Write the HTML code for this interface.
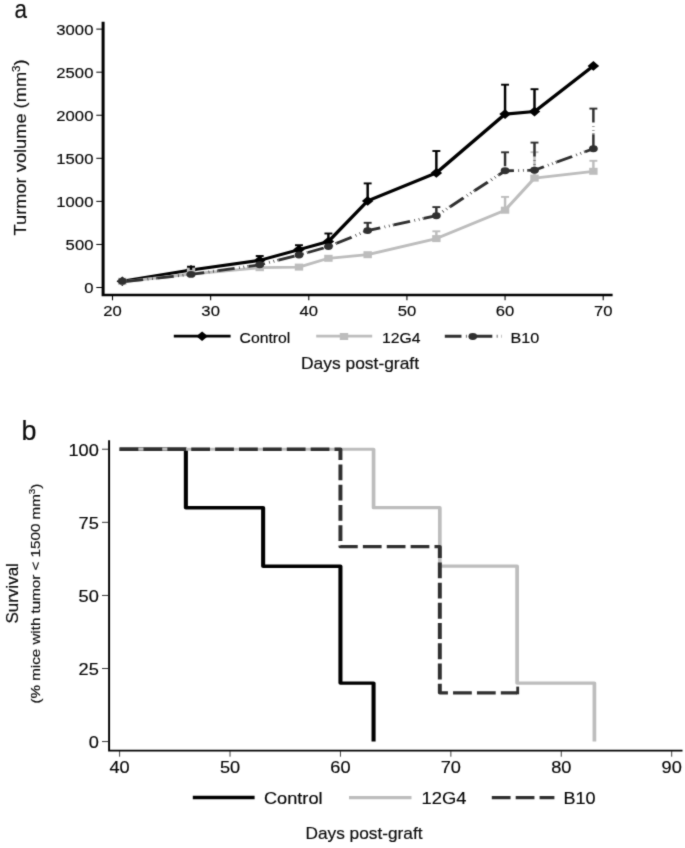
<!DOCTYPE html>
<html lang="en">
<head>
<meta charset="utf-8">
<title>Tumor volume and survival</title>
<style>
html,body{margin:0;padding:0;background:#fff}
body{width:685px;height:848px;overflow:hidden}
svg{display:block;will-change:transform;filter:grayscale(1)}
text{font-family:"Liberation Sans", Arial, Helvetica, sans-serif;fill:#111}
.ta{font-size:14.5px;fill:#050505;stroke:#050505;stroke-width:.14px}
.tb{font-size:16.1px;fill:#050505;stroke:#050505;stroke-width:.16px}
.cl{fill:#0c0c0c;stroke:#0c0c0c;stroke-width:.18px}
</style>
</head>
<body>
<svg width="685" height="848" viewBox="0 0 685 848">
<defs>
<filter id="soft" x="0" y="0" width="685" height="848" filterUnits="userSpaceOnUse" color-interpolation-filters="sRGB">
<feConvolveMatrix order="3" kernelMatrix="0.025 0.0875 0.025 0.0875 0.55 0.0875 0.025 0.0875 0.025" divisor="1" edgeMode="duplicate" preserveAlpha="true"/>
</filter>
</defs>
<g filter="url(#soft)">
<rect width="685" height="848" fill="#fff"/>
<g transform="scale(1.2,1)">
<path d="M85.917 21.7V295.1H510.5" fill="none" stroke="#000" stroke-width="2.5" stroke-linejoin="miter"/>
<line x1="80.25" x2="85" y1="287.5" y2="287.5" stroke="#000" stroke-width="1"/>
<text transform="translate(77.833,293.15) scale(0.957,1)" text-anchor="end" class="ta">0</text>
<line x1="80.25" x2="85" y1="244.435" y2="244.435" stroke="#000" stroke-width="1"/>
<text transform="translate(77.833,250.085) scale(0.957,1)" text-anchor="end" class="ta">500</text>
<line x1="80.25" x2="85" y1="201.37" y2="201.37" stroke="#000" stroke-width="1"/>
<text transform="translate(77.833,207.02) scale(0.957,1)" text-anchor="end" class="ta">1000</text>
<line x1="80.25" x2="85" y1="158.305" y2="158.305" stroke="#000" stroke-width="1"/>
<text transform="translate(77.833,163.955) scale(0.957,1)" text-anchor="end" class="ta">1500</text>
<line x1="80.25" x2="85" y1="115.24" y2="115.24" stroke="#000" stroke-width="1"/>
<text transform="translate(77.833,120.89) scale(0.957,1)" text-anchor="end" class="ta">2000</text>
<line x1="80.25" x2="85" y1="72.175" y2="72.175" stroke="#000" stroke-width="1"/>
<text transform="translate(77.833,77.825) scale(0.957,1)" text-anchor="end" class="ta">2500</text>
<line x1="80.25" x2="85" y1="29.11" y2="29.11" stroke="#000" stroke-width="1"/>
<text transform="translate(77.833,34.76) scale(0.957,1)" text-anchor="end" class="ta">3000</text>
<line x1="93.75" x2="93.75" y1="296" y2="300.3" stroke="#000" stroke-width="0.9"/>
<text transform="translate(93.75,315.5) scale(0.957,1)" text-anchor="middle" class="ta">20</text>
<line x1="175.533" x2="175.533" y1="296" y2="300.3" stroke="#000" stroke-width="0.9"/>
<text transform="translate(175.533,315.5) scale(0.957,1)" text-anchor="middle" class="ta">30</text>
<line x1="257.317" x2="257.317" y1="296" y2="300.3" stroke="#000" stroke-width="0.9"/>
<text transform="translate(257.317,315.5) scale(0.957,1)" text-anchor="middle" class="ta">40</text>
<line x1="339.1" x2="339.1" y1="296" y2="300.3" stroke="#000" stroke-width="0.9"/>
<text transform="translate(339.1,315.5) scale(0.957,1)" text-anchor="middle" class="ta">50</text>
<line x1="420.883" x2="420.883" y1="296" y2="300.3" stroke="#000" stroke-width="0.9"/>
<text transform="translate(420.883,315.5) scale(0.957,1)" text-anchor="middle" class="ta">60</text>
<line x1="502.667" x2="502.667" y1="296" y2="300.3" stroke="#000" stroke-width="0.9"/>
<text transform="translate(502.667,315.5) scale(0.957,1)" text-anchor="middle" class="ta">70</text>
<polyline points="101.928,281.2 159.177,269.9 216.425,260.4 249.138,249.6 273.673,241.5 306.387,200.9 363.635,172.9 420.883,114.1 445.418,111.6 494.488,65.9" fill="none" stroke="#000" stroke-width="3.05" stroke-linejoin="round"/>
<path d="M101.928 276.4l4.8 4.8l-4.8 4.8l-4.8 -4.8z" fill="#000"/>
<path d="M159.177 265.1l4.8 4.8l-4.8 4.8l-4.8 -4.8z" fill="#000"/>
<path d="M216.425 255.6l4.8 4.8l-4.8 4.8l-4.8 -4.8z" fill="#000"/>
<path d="M249.138 244.8l4.8 4.8l-4.8 4.8l-4.8 -4.8z" fill="#000"/>
<path d="M273.673 236.7l4.8 4.8l-4.8 4.8l-4.8 -4.8z" fill="#000"/>
<path d="M306.387 196.1l4.8 4.8l-4.8 4.8l-4.8 -4.8z" fill="#000"/>
<path d="M363.635 168.1l4.8 4.8l-4.8 4.8l-4.8 -4.8z" fill="#000"/>
<path d="M420.883 109.3l4.8 4.8l-4.8 4.8l-4.8 -4.8z" fill="#000"/>
<path d="M445.418 106.8l4.8 4.8l-4.8 4.8l-4.8 -4.8z" fill="#000"/>
<path d="M494.488 61.1l4.8 4.8l-4.8 4.8l-4.8 -4.8z" fill="#000"/>
<polyline points="101.928,281.8 159.177,274 216.425,267.7 249.138,267.1 273.673,258.3 306.387,254.7 363.635,238.6 420.883,210.2 445.418,178.1 494.488,171.3" fill="none" stroke="#bdbdbd" stroke-width="2.8" stroke-linejoin="round"/>
<rect x="98.428" y="277.8" width="7" height="7" fill="#bdbdbd"/>
<rect x="155.677" y="267.1" width="7" height="7" fill="#bdbdbd"/>
<rect x="212.925" y="264.2" width="7" height="7" fill="#bdbdbd"/>
<rect x="245.638" y="263.6" width="7" height="7" fill="#bdbdbd"/>
<rect x="270.173" y="254.8" width="7" height="7" fill="#bdbdbd"/>
<rect x="302.887" y="251.2" width="7" height="7" fill="#bdbdbd"/>
<rect x="360.135" y="235.1" width="7" height="7" fill="#bdbdbd"/>
<rect x="417.383" y="206.7" width="7" height="7" fill="#bdbdbd"/>
<rect x="441.918" y="174.6" width="7" height="7" fill="#bdbdbd"/>
<rect x="490.988" y="167.8" width="7" height="7" fill="#bdbdbd"/>
<path d="M363.635 231.3V238.6" fill="none" stroke="#bdbdbd" stroke-width="2.05"/><path d="M360.335 231.3H366.935" fill="none" stroke="#bdbdbd" stroke-width="1.9"/>
<path d="M420.883 196.9V210.2" fill="none" stroke="#bdbdbd" stroke-width="2.05"/><path d="M417.583 196.9H424.183" fill="none" stroke="#bdbdbd" stroke-width="1.9"/>
<path d="M445.418 152.2V178.1" fill="none" stroke="#bdbdbd" stroke-width="2.05"/><path d="M442.118 152.2H448.718" fill="none" stroke="#bdbdbd" stroke-width="1.9"/>
<path d="M494.488 160.8V171.3" fill="none" stroke="#bdbdbd" stroke-width="2.05"/><path d="M491.188 160.8H497.788" fill="none" stroke="#bdbdbd" stroke-width="1.9"/>
<polyline points="101.928,281.9 159.177,274.4 216.425,264.8 249.138,255 273.673,246.6 306.387,230.6 363.635,215.7 420.883,170.8 445.418,170.2 494.488,148.7" fill="none" stroke="#303030" stroke-width="2.8" stroke-dasharray="13.9 3.7 0.6 3.2 0.6 2.8 0.6 0.3" stroke-dashoffset="22.1"/>
<ellipse cx="101.928" cy="281.2" rx="3.65" ry="3.45" fill="#303030"/>
<ellipse cx="159.177" cy="274.4" rx="3.65" ry="3.45" fill="#303030"/>
<ellipse cx="216.425" cy="264.8" rx="3.65" ry="3.45" fill="#303030"/>
<ellipse cx="249.138" cy="255" rx="3.65" ry="3.45" fill="#303030"/>
<ellipse cx="273.673" cy="246.6" rx="3.65" ry="3.45" fill="#303030"/>
<ellipse cx="306.387" cy="230.6" rx="3.65" ry="3.45" fill="#303030"/>
<ellipse cx="363.635" cy="215.7" rx="3.65" ry="3.45" fill="#303030"/>
<ellipse cx="420.883" cy="170.8" rx="3.65" ry="3.45" fill="#303030"/>
<ellipse cx="445.418" cy="170.2" rx="3.65" ry="3.45" fill="#303030"/>
<ellipse cx="494.488" cy="148.7" rx="3.65" ry="3.45" fill="#303030"/>
<path d="M159.177 266.7V269.9" fill="none" stroke="#000" stroke-width="2.05"/><path d="M155.877 266.7H162.477" fill="none" stroke="#000" stroke-width="1.9"/>
<path d="M216.425 256V260.4" fill="none" stroke="#000" stroke-width="2.05"/><path d="M213.125 256H219.725" fill="none" stroke="#000" stroke-width="1.9"/>
<path d="M249.138 245.2V249.6" fill="none" stroke="#000" stroke-width="2.05"/><path d="M245.838 245.2H252.438" fill="none" stroke="#000" stroke-width="1.9"/>
<path d="M273.673 233.5V241.5" fill="none" stroke="#000" stroke-width="2.05"/><path d="M270.373 233.5H276.973" fill="none" stroke="#000" stroke-width="1.9"/>
<path d="M306.387 183.4V200.9" fill="none" stroke="#000" stroke-width="2.05"/><path d="M303.087 183.4H309.687" fill="none" stroke="#000" stroke-width="1.9"/>
<path d="M363.635 151V172.9" fill="none" stroke="#000" stroke-width="2.05"/><path d="M360.335 151H366.935" fill="none" stroke="#000" stroke-width="1.9"/>
<path d="M420.883 84.7V114.1" fill="none" stroke="#000" stroke-width="2.05"/><path d="M417.583 84.7H424.183" fill="none" stroke="#000" stroke-width="1.9"/>
<path d="M445.418 89.2V111.6" fill="none" stroke="#000" stroke-width="2.05"/><path d="M442.118 89.2H448.718" fill="none" stroke="#000" stroke-width="1.9"/>
<path d="M306.387 222.8V230.6" fill="none" stroke="#303030" stroke-width="2.05" stroke-dasharray="13.9 3.7 0.6 3.2 0.6 2.8 0.6 0.3"/><path d="M303.087 222.8H309.687" fill="none" stroke="#303030" stroke-width="1.9"/>
<path d="M363.635 207.1V215.7" fill="none" stroke="#303030" stroke-width="2.05" stroke-dasharray="13.9 3.7 0.6 3.2 0.6 2.8 0.6 0.3"/><path d="M360.335 207.1H366.935" fill="none" stroke="#303030" stroke-width="1.9"/>
<path d="M420.883 152.3V170.8" fill="none" stroke="#303030" stroke-width="2.05" stroke-dasharray="13.9 3.7 0.6 3.2 0.6 2.8 0.6 0.3"/><path d="M417.583 152.3H424.183" fill="none" stroke="#303030" stroke-width="1.9"/>
<path d="M445.418 142.6V170.2" fill="none" stroke="#303030" stroke-width="2.05" stroke-dasharray="13.9 3.7 0.6 3.2 0.6 2.8 0.6 0.3"/><path d="M442.118 142.6H448.718" fill="none" stroke="#303030" stroke-width="1.9"/>
<path d="M494.488 108.6V148.7" fill="none" stroke="#303030" stroke-width="2.05" stroke-dasharray="13.9 3.7 0.6 3.2 0.6 2.8 0.6 0.3"/><path d="M491.188 108.6H497.788" fill="none" stroke="#303030" stroke-width="1.9"/>
<line x1="144.833" x2="192.167" y1="336.2" y2="336.2" stroke="#000" stroke-width="2.8"/>
<path d="M168.417 331.4l4.8 4.8l-4.8 4.8l-4.8 -4.8z" fill="#000"/>
<text transform="translate(199.667,342.5) scale(0.906,1)" class="ta">Control</text>
<line x1="263.5" x2="310.167" y1="336.2" y2="336.2" stroke="#bdbdbd" stroke-width="2.8"/>
<rect x="283.167" y="333" width="7" height="7" fill="#bdbdbd"/>
<text transform="translate(318.333,342.5) scale(0.906,1)" class="ta">12G4</text>
<line x1="370.667" x2="418" y1="336.2" y2="336.2" stroke="#303030" stroke-width="2.9" stroke-dasharray="13.9 3.7 0.6 3.2 0.6 2.8 0.6 0.3"/>
<ellipse cx="394" cy="336.5" rx="3.65" ry="3.45" fill="#303030"/>
<text transform="translate(425.417,342.5) scale(0.93,1)" class="ta">B10</text>
</g>
<g transform="scale(1.18,1)">
<path d="M92.458 440.3V750.6H578.39" fill="none" stroke="#000" stroke-width="1.65" stroke-linejoin="miter"/>
<line x1="86.441" x2="91.949" y1="741.6" y2="741.6" stroke="#222" stroke-width="0.9"/>
<text transform="translate(83.729,748.4) scale(0.957,1)" text-anchor="end" class="tb">0</text>
<line x1="86.441" x2="91.949" y1="668.5" y2="668.5" stroke="#222" stroke-width="0.9"/>
<text transform="translate(83.729,675.3) scale(0.957,1)" text-anchor="end" class="tb">25</text>
<line x1="86.441" x2="91.949" y1="595.4" y2="595.4" stroke="#222" stroke-width="0.9"/>
<text transform="translate(83.729,602.2) scale(0.957,1)" text-anchor="end" class="tb">50</text>
<line x1="86.441" x2="91.949" y1="522.3" y2="522.3" stroke="#222" stroke-width="0.9"/>
<text transform="translate(83.729,529.1) scale(0.957,1)" text-anchor="end" class="tb">75</text>
<line x1="86.441" x2="91.949" y1="449.2" y2="449.2" stroke="#222" stroke-width="0.9"/>
<text transform="translate(83.729,456) scale(0.957,1)" text-anchor="end" class="tb">100</text>
<line x1="101.356" x2="101.356" y1="751" y2="756.7" stroke="#222" stroke-width="0.8"/>
<text transform="translate(101.356,773.4) scale(0.957,1)" text-anchor="middle" class="tb">40</text>
<line x1="194.932" x2="194.932" y1="751" y2="756.7" stroke="#222" stroke-width="0.8"/>
<text transform="translate(194.932,773.4) scale(0.957,1)" text-anchor="middle" class="tb">50</text>
<line x1="288.508" x2="288.508" y1="751" y2="756.7" stroke="#222" stroke-width="0.8"/>
<text transform="translate(288.508,773.4) scale(0.957,1)" text-anchor="middle" class="tb">60</text>
<line x1="382.085" x2="382.085" y1="751" y2="756.7" stroke="#222" stroke-width="0.8"/>
<text transform="translate(382.085,773.4) scale(0.957,1)" text-anchor="middle" class="tb">70</text>
<line x1="475.661" x2="475.661" y1="751" y2="756.7" stroke="#222" stroke-width="0.8"/>
<text transform="translate(475.661,773.4) scale(0.957,1)" text-anchor="middle" class="tb">80</text>
<line x1="569.237" x2="569.237" y1="751" y2="756.7" stroke="#222" stroke-width="0.8"/>
<text transform="translate(569.237,773.4) scale(0.957,1)" text-anchor="middle" class="tb">90</text>
<path d="M101.356 449.2 L157.502 449.2 L157.502 507.68 L223.005 507.68 L223.005 566.16 L288.508 566.16 L288.508 683.12 L316.581 683.12 L316.581 741.6" fill="none" stroke="#000" stroke-width="3.45" stroke-linejoin="round"/>
<path d="M101.356 449.2 L316.581 449.2 L316.581 507.68 L372.727 507.68 L372.727 566.16 L438.231 566.16 L438.231 683.12 L503.734 683.12 L503.734 741.6" fill="none" stroke="#bdbdbd" stroke-width="3.15" stroke-linejoin="round"/>
<path d="M101.356 449.2 L288.508 449.2 L288.508 546.657 L372.727 546.657 L372.727 692.857 L438.231 692.857" fill="none" stroke="#303030" stroke-width="3.35" stroke-linejoin="round" stroke-dasharray="15.9 4.34"/>
<path d="M438.729 694.3V686.6" fill="none" stroke="#303030" stroke-width="2.4"/>
<line x1="163.39" x2="215.763" y1="797.6" y2="797.6" stroke="#000" stroke-width="3.5"/>
<text transform="translate(223.729,803.6) scale(0.957,1)" class="tb">Control</text>
<line x1="295.763" x2="348.729" y1="797.6" y2="797.6" stroke="#bdbdbd" stroke-width="3.2"/>
<text transform="translate(357.288,803.6) scale(0.966,1)" class="tb">12G4</text>
<line x1="416.78" x2="469.831" y1="797.6" y2="797.6" stroke="#303030" stroke-width="3.35" stroke-dasharray="15.9 4.34"/>
<text transform="translate(477.627,803.6) scale(0.948,1)" class="tb">B10</text>
</g>
<text x="14.4" y="18.2" class="cl" font-size="26.5" textLength="12.5" lengthAdjust="spacingAndGlyphs">a</text>
<text x="21.4" y="440" class="cl" font-size="28" textLength="15" lengthAdjust="spacingAndGlyphs">b</text>
<text x="301" y="369.4" class="cl" font-size="16.6" textLength="118" lengthAdjust="spacingAndGlyphs">Days post-graft</text>
<text x="305.5" y="839.4" class="cl" font-size="16.6" textLength="117" lengthAdjust="spacingAndGlyphs">Days post-graft</text>
<text transform="translate(26.4,235.4) rotate(-90)" class="cl" font-size="16.6" textLength="176" lengthAdjust="spacingAndGlyphs">Turmor volume (mm<tspan font-size="10.5" dy="-6.2">3</tspan><tspan dy="6.2">)</tspan></text>
<text transform="translate(18.3,623.6) rotate(-90)" class="cl" font-size="16.6" textLength="60.5" lengthAdjust="spacingAndGlyphs">Survival</text>
<text transform="translate(39.8,703.6) rotate(-90)" class="cl" font-size="12.6" textLength="220" lengthAdjust="spacingAndGlyphs">(% mice with tumor &lt; 1500 mm<tspan font-size="8.2" dy="-4.8">3</tspan><tspan dy="4.8">)</tspan></text>
</g>
</svg>
</body>
</html>
